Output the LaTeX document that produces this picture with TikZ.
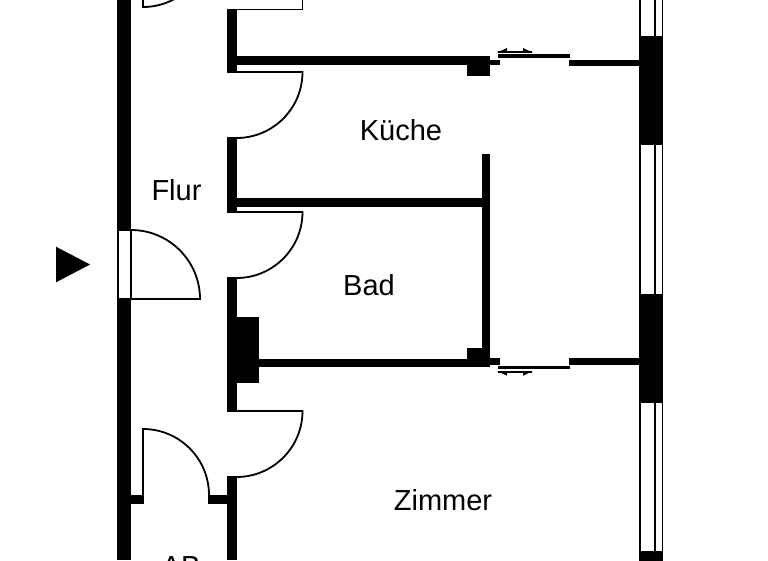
\documentclass[tikz,border=0pt]{standalone}
\usepackage{fontspec}
\setmainfont{Liberation Sans}
\tikzset{
    wall/.style={fill=black, draw=none},
    doorline/.style={line width=1.8pt, draw=black},
    pane/.style={line width=1.8pt, draw=black, fill=white},
    slidetrack/.style={line width=2pt, draw=black},
    roomlabel/.style={font=\fontsize{29}{32}\selectfont, inner sep=0pt, text=black},
}
\begin{document}
\begin{tikzpicture}[x=1pt, y=-1pt]
    \useasboundingbox (0,0) rectangle (768,560);
    % walls
    \fill[wall] (117,0) rectangle (131,230);
    \fill[wall] (117,299) rectangle (131,560);
    \fill[wall] (227,9) rectangle (236.5,72);
    \fill[wall] (227,137) rectangle (236.5,212);
    \fill[wall] (227,277) rectangle (236.5,411);
    \fill[wall] (227,476) rectangle (236.5,560);
    \fill[wall] (236,56) rectangle (490,65);
    \fill[wall] (467,65) rectangle (490,76);
    \fill[wall] (490,59.5) rectangle (499.5,65);
    \fill[wall] (569,59.5) rectangle (640,65.5);
    \fill[wall] (236,198) rectangle (490,207);
    \fill[wall] (481.5,154) rectangle (490,367);
    \fill[wall] (236,317) rectangle (259,383);
    \fill[wall] (259,359) rectangle (490,367);
    \fill[wall] (467,348) rectangle (490,359);
    \fill[wall] (490,358) rectangle (499.5,364.5);
    \fill[wall] (569,358) rectangle (640,364.5);
    \fill[wall] (131,495) rectangle (143.5,504);
    \fill[wall] (208,495) rectangle (227,504);
    % window
    \draw[pane] (640,-5) rectangle (662.5,37);
    \draw[pane] (655,-5) -- (655,37);
    \fill[wall] (639,37) rectangle (663,144.5);
    \draw[pane] (640,144.5) rectangle (662.5,294.5);
    \draw[pane] (655,144.5) -- (655,294.5);
    \fill[wall] (639,294.5) rectangle (663,402);
    \draw[pane] (640,402) rectangle (662.5,552);
    \draw[pane] (655,402) -- (655,552);
    \fill[wall] (639,552) rectangle (663,565);
    % sliding doors
    \fill[wall] (497.5,54.3) rectangle (570,57.8);
    \fill[wall] (497.5,365.8) rectangle (570,369.3);
    \draw[slidetrack] (498,51.7) -- (532,51.7);
    \fill (497,52.7) -- (507,48) -- (507,52.7) -- cycle;
    \fill (533,52.7) -- (523,48) -- (523,52.7) -- cycle;
    \draw[slidetrack] (498,372) -- (532,372);
    \fill (497,371) -- (507,375.7) -- (507,371) -- cycle;
    \fill (533,371) -- (523,375.7) -- (523,371) -- cycle;
    % doors
    \draw[doorline] (143,0) -- (143,7) arc[start angle=90, end angle=60, radius=66];
    \draw[doorline] (227,9.5) -- (302.5,9.5) -- (302.5,0);
    \draw[doorline] (227,72) -- (302.5,72) arc[start angle=0, end angle=90, radius=66] -- (227,138);
    \draw[doorline] (227,212) -- (302.5,212) arc[start angle=0, end angle=90, radius=66] -- (227,278);
    \draw[doorline] (227,411) -- (302.5,411) arc[start angle=0, end angle=90, radius=66] -- (227,477);
    \draw[doorline] (143,495) -- (143,429) arc[start angle=-90, end angle=0, radius=66] -- (209,495);
    % entrance
    \draw[pane] (118,230.5) rectangle (131,299);
    \draw[doorline] (131,299) -- (200,299) arc[start angle=0, end angle=-90, radius=69];
    \fill (56,246.7) -- (90,264.5) -- (56,282.3) -- cycle;
    % labels
    \node[roomlabel] (flur) at (176.5,190) {Flur};
    \node[roomlabel] (kueche) at (401,130) {Küche};
    \node[roomlabel] (bad) at (369,285) {Bad};
    \node[roomlabel] (zimmer) at (443,500) {Zimmer};
    \node[roomlabel, anchor=north] (ab) at (181,556.5) {AB};
\end{tikzpicture}
\end{document}
